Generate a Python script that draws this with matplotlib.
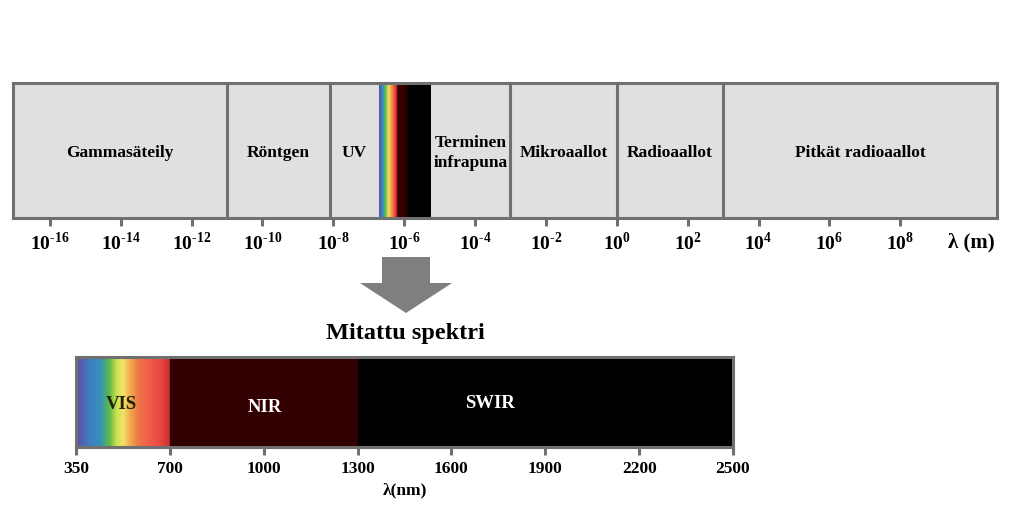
import matplotlib
matplotlib.use('Agg')
import matplotlib.pyplot as plt
from matplotlib.colors import LinearSegmentedColormap
from matplotlib.patches import Polygon
import numpy as np

plt.rcParams['font.family'] = ['Liberation Serif', 'DejaVu Serif']
plt.rcParams['font.weight'] = 'bold'
plt.rcParams['mathtext.fontset'] = 'custom'
plt.rcParams['mathtext.rm'] = 'Liberation Serif:bold'
plt.rcParams['mathtext.bf'] = 'Liberation Serif:bold'

# top scale: log10 of wavelength in metres
top_exponents = [-16, -14, -12, -10, -8, -6, -4, -2, 0, 2, 4, 6, 8]
top_limits = (-17.04, 10.73)
top_dividers = [-11, -8.1, -3, 0, 3]
top_regions = ['Gammasäteily', 'Röntgen', 'UV', 'Terminen\ninfrapuna',
               'Mikroaallot', 'Radioaallot', 'Pitkät radioaallot']
top_region_bounds = [(-17.04, -11), (-11, -8.1), (-8.1, -6.7), (-5.25, -3),
                     (-3, 0), (0, 3), (3, 10.73)]
top_strip = (-6.7, -5.25)
top_strip_colors = [(0.0, '#5a50a8'), (0.05, '#3f7fc0'), (0.09, '#3aa0b0'),
                    (0.13, '#6cc040'), (0.18, '#f2e45a'), (0.24, '#f09a48'),
                    (0.29, '#f05a45'), (0.33, '#d83030'), (0.36, '#3a0000'),
                    (0.50, '#300000'), (0.58, '#000000'), (1.0, '#000000')]

# bottom scale: measured spectrum (nm), evenly spaced ticks
nm_ticks = [350, 700, 1000, 1300, 1600, 1900, 2200, 2500]
nm_bands = ['VIS', 'NIR', 'SWIR']
nm_band_bounds = [(0, 1), (1, 3), (3, 7)]
nm_band_colors = [None, '#320000', '#000000']
nm_label_pos = [(0.48, 0.47), (2.01, 0.44), (4.41, 0.48)]
nm_label_colors = ['#222200', 'white', 'white']
vis_colors = [(0.0, '#5a4fa8'), (0.06, '#5560b0'), (0.14, '#3f7cc0'),
              (0.26, '#3592b8'), (0.36, '#62bb45'), (0.43, '#c8e050'),
              (0.50, '#f2e46a'), (0.57, '#f0b050'), (0.66, '#ee7a48'),
              (0.78, '#f25c48'), (0.90, '#e84840'), (1.0, '#c83030')]

edge = '#707070'
W, H = 1024, 523
fig = plt.figure(figsize=(W / 100, H / 100), dpi=100)

# ---- top axis: electromagnetic spectrum ----
ax = fig.add_axes([13 / W, 1 - 218 / H, 984 / W, 135 / H])
ax.set_facecolor('#e0e0e0')
cmap_top = LinearSegmentedColormap.from_list('top', top_strip_colors)
ax.imshow(np.linspace(0, 1, 256)[None, :], cmap=cmap_top, aspect='auto',
          extent=(top_strip[0], top_strip[1], 0, 1), zorder=1)
for d in top_dividers:
    ax.axvline(d, color=edge, lw=2.2, zorder=2)
for name, (a, b) in zip(top_regions, top_region_bounds):
    ax.text((a + b) / 2, 0.48, name, ha='center', va='center', fontsize=12.5,
            fontweight='bold', linespacing=1.35)
ax.set_xlim(*top_limits)
ax.set_ylim(0, 1)
ax.set_yticks([])
ax.set_xticks(top_exponents)
ax.set_xticklabels(['$10^{\\text{%d}}$' % e for e in top_exponents],
                   fontsize=14)
ax.tick_params(axis='x', length=6, width=2.2, color=edge, pad=4)
for s in ax.spines.values():
    s.set_color(edge)
    s.set_linewidth(2.2)
fig.text(971 / W, 1 - 242 / H, 'λ (m)', ha='center', va='center',
         fontsize=15, fontweight='bold')

# ---- arrow ----
arrow_px = [(382, 257), (430, 257), (430, 283), (452, 283), (406, 313),
            (360, 283), (382, 283)]
fig.patches.append(Polygon([(x / W, 1 - y / H) for x, y in arrow_px],
                           closed=True, transform=fig.transFigure,
                           facecolor='#7f7f7f', edgecolor='none'))

fig.text(405 / W, 1 - 333 / H, 'Mitattu spektri', ha='center', va='center',
         fontsize=17.5, fontweight='bold')

# ---- bottom axis: measured spectrum ----
bx = fig.add_axes([76 / W, 1 - 447 / H, 657 / W, 90 / H])
cmap_vis = LinearSegmentedColormap.from_list('vis', vis_colors)
for (a, b), c in zip(nm_band_bounds, nm_band_colors):
    if c is None:
        bx.imshow(np.linspace(0, 1, 256)[None, :], cmap=cmap_vis,
                  aspect='auto', extent=(a, b, 0, 1), zorder=1)
    else:
        bx.axvspan(a, b, color=c, zorder=1)
for name, (x, y), c in zip(nm_bands, nm_label_pos, nm_label_colors):
    bx.text(x, y, name, ha='center', va='center', fontsize=13.5,
            fontweight='bold', color=c, zorder=3)
bx.set_xlim(0, 7)
bx.set_ylim(0, 1)
bx.set_yticks([])
bx.set_xticks(range(len(nm_ticks)))
bx.set_xticklabels([str(t) for t in nm_ticks], fontsize=12.5,
                   fontweight='bold')
bx.tick_params(axis='x', length=6, width=2.2, color=edge, pad=4)
for s in bx.spines.values():
    s.set_color(edge)
    s.set_linewidth(2.2)
bx.set_xlabel('λ(nm)', fontsize=12.5, fontweight='bold', labelpad=4)

fig.savefig('out.png', dpi=100)
